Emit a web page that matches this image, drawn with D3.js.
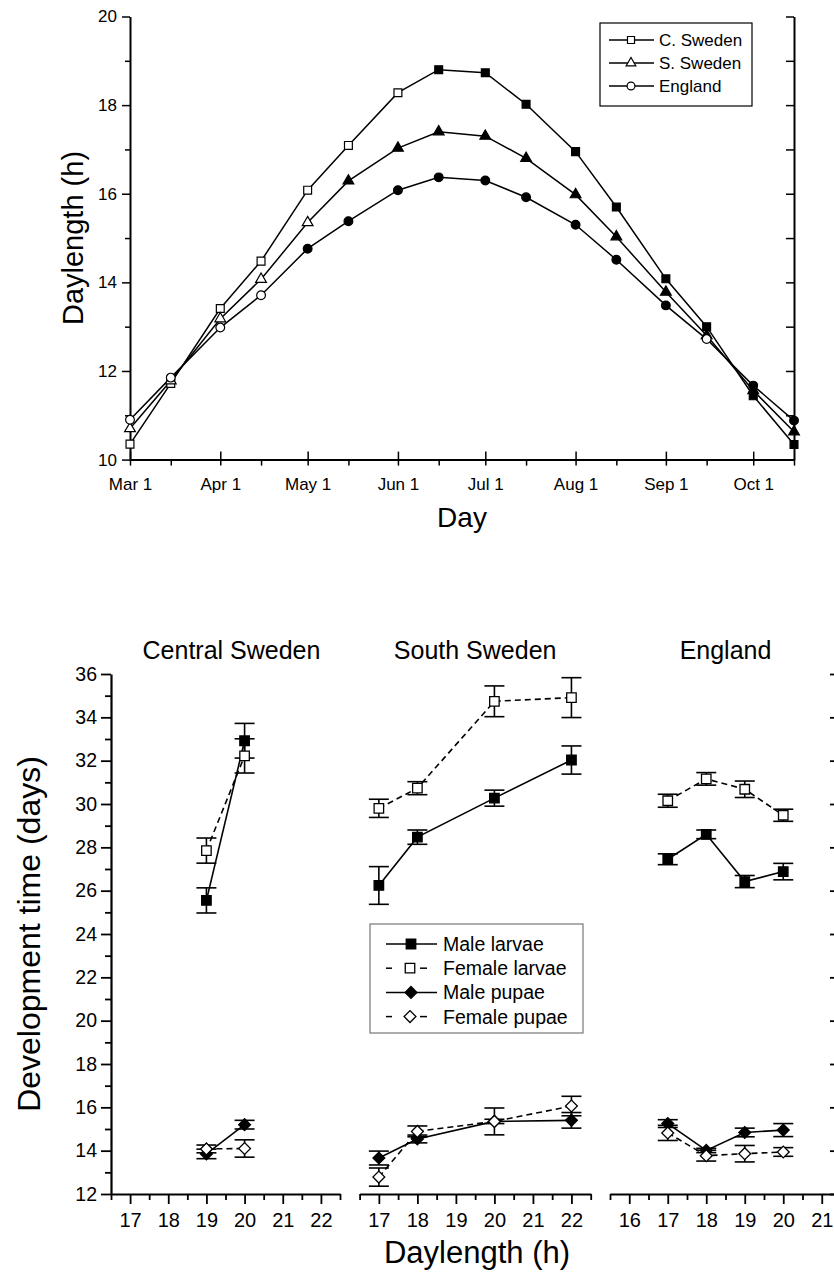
<!DOCTYPE html>
<html lang="en">
  <head>
    <meta charset="utf-8">
    <title>Daylength and development time</title>
    <script src="https://d3js.org/d3.v7.min.js"></script>
    <style>
      body { margin: 0; background: white; }
      svg { display: block; font-family: "Liberation Sans", Arial, sans-serif; }
      .axis path, .axis line { stroke: black; }
      .axis text { fill: black; font-family: "Liberation Sans", Arial, sans-serif; }
    </style>
  </head>
  <body>
    <svg width="834" height="1275"></svg>
    <script>
      // ---- top chart data: daylength through the season ----
      var seasonDates = ["2001-03-01", "2001-03-15", "2001-04-01", "2001-04-15",
        "2001-05-01", "2001-05-15", "2001-06-01", "2001-06-15",
        "2001-07-01", "2001-07-15", "2001-08-01", "2001-08-15",
        "2001-09-01", "2001-09-15", "2001-10-01", "2001-10-15"];
      var cSweden = [10.35, 11.72, 13.41, 14.48, 16.08, 17.09, 18.28, 18.8,
        18.73, 18.02, 16.95, 15.7, 14.08, 13.0, 11.44, 10.34];
      var sSweden = [10.7, 11.78, 13.18, 14.07, 15.35, 16.29, 17.03, 17.4,
        17.3, 16.8, 15.98, 15.03, 13.78, 12.8, 11.56, 10.63];
      var england = [10.9, 11.85, 12.98, 13.71, 14.76, 15.38, 16.08, 16.37,
        16.3, 15.92, 15.3, 14.51, 13.48, 12.72, 11.67, 10.88];
      // 1 = filled marker, 0 = open marker
      var cSwedenFilled = [0, 0, 0, 0, 0, 0, 0, 1, 1, 1, 1, 1, 1, 1, 1, 1];
      var sSwedenFilled = [0, 0, 0, 0, 0, 1, 1, 1, 1, 1, 1, 1, 1, 1, 1, 1];
      var englandFilled = [0, 0, 0, 0, 1, 1, 1, 1, 1, 1, 1, 1, 1, 0, 1, 1];
      var topSeriesNames = ["C. Sweden", "S. Sweden", "England"];

      // ---- bottom chart data: development time (mean, error) ----
      var regionNames = ["Central Sweden", "South Sweden", "England"];
      var centralDaylength = [19, 20];
      var southDaylength = [17, 18, 20, 22];
      var englandDaylength = [17, 18, 19, 20];

      var centralMaleLarvae = [25.55, 32.92], centralMaleLarvaeErr = [0.58, 0.8];
      var centralFemaleLarvae = [27.85, 32.22], centralFemaleLarvaeErr = [0.58, 0.79];
      var centralMalePupae = [13.85, 15.2], centralMalePupaeErr = [0.22, 0.2];
      var centralFemalePupae = [14.08, 14.1], centralFemalePupaeErr = [0.18, 0.4];

      var southMaleLarvae = [26.24, 28.47, 30.27, 32.03], southMaleLarvaeErr = [0.87, 0.33, 0.37, 0.65];
      var southFemaleLarvae = [29.8, 30.73, 34.74, 34.91], southFemaleLarvaeErr = [0.42, 0.3, 0.71, 0.92];
      var southMalePupae = [13.66, 14.54, 15.35, 15.4], southMalePupaeErr = [0.32, 0.18, 0.1, 0.36];
      var southFemalePupae = [12.78, 14.89, 15.35, 16.06], southFemalePupaeErr = [0.42, 0.25, 0.62, 0.45];

      var englandMaleLarvae = [27.45, 28.6, 26.42, 26.88], englandMaleLarvaeErr = [0.25, 0.2, 0.28, 0.38];
      var englandFemaleLarvae = [30.15, 31.16, 30.68, 29.48], englandFemaleLarvaeErr = [0.3, 0.29, 0.38, 0.28];
      var englandMalePupae = [15.25, 14.01, 14.84, 14.95], englandMalePupaeErr = [0.18, 0.1, 0.2, 0.3];
      var englandFemalePupae = [14.82, 13.77, 13.86, 13.94], englandFemalePupaeErr = [0.35, 0.25, 0.38, 0.2];

      var stageNames = ["Male larvae", "Female larvae", "Male pupae", "Female pupae"];

      var svg = d3.select("svg");
      svg.append("rect").attr("width", 834).attr("height", 1275).attr("fill", "white");

      var font = "'Liberation Sans', Arial, sans-serif";

      // ================= top chart =================
      var parseDate = d3.utcParse("%Y-%m-%d");
      var xTop = d3.scaleUtc()
        .domain([parseDate("2001-03-01"), parseDate("2001-10-15")])
        .range([130, 794]);
      var yTop = d3.scaleLinear().domain([10, 20]).range([459.6, 16.5]);

      // bottom axis, month ticks crossing the line
      var months = d3.utcMonth.range(parseDate("2001-03-01"), parseDate("2001-10-02"));
      svg.append("g").attr("class", "axis")
        .attr("transform", "translate(0,459.6)")
        .call(d3.axisBottom(xTop).tickValues(months).tickSize(6).tickSizeOuter(0)
          .tickFormat(d3.utcFormat("%b %-d")))
        .call(function(g) {
          g.select(".domain").attr("stroke-width", 2);
          g.selectAll(".tick line").attr("y1", -8).attr("stroke-width", 1.5);
          g.selectAll(".tick text").attr("y", 18).attr("dy", "0.71em")
            .attr("font-size", 17);
        });
      var mids = months.map(function(d) { return d3.utcDay.offset(d, 14); });
      svg.append("g").attr("class", "axis")
        .attr("transform", "translate(0,459.6)")
        .call(d3.axisBottom(xTop).tickValues(mids).tickSize(6).tickFormat(""))
        .call(function(g) {
          g.select(".domain").remove();
          g.selectAll(".tick line").attr("stroke-width", 1.5);
        });

      // left axis
      svg.append("g").attr("class", "axis")
        .attr("transform", "translate(130,0)")
        .call(d3.axisLeft(yTop).tickValues([10, 12, 14, 16, 18, 20]).tickSize(8)
          .tickSizeOuter(0).tickFormat(d3.format("d")))
        .call(function(g) {
          g.select(".domain").attr("stroke-width", 2);
          g.selectAll(".tick line").attr("stroke-width", 1.5);
          g.selectAll(".tick text").attr("x", -13).attr("font-size", 17);
        });
      svg.append("g").attr("class", "axis")
        .attr("transform", "translate(130,0)")
        .call(d3.axisLeft(yTop).tickValues([11, 13, 15, 17, 19]).tickSize(5).tickFormat(""))
        .call(function(g) {
          g.select(".domain").remove();
          g.selectAll(".tick line").attr("stroke-width", 1.5);
        });

      // right axis, ticks pointing in
      svg.append("g").attr("class", "axis")
        .attr("transform", "translate(794,0)")
        .call(d3.axisRight(yTop).tickValues(d3.range(10, 21)).tickSize(-8)
          .tickSizeOuter(0).tickFormat(""))
        .call(function(g) {
          g.select(".domain").attr("stroke-width", 2);
          g.selectAll(".tick line").attr("stroke-width", 1.5);
        });

      // axis titles
      svg.append("text").attr("x", 462).attr("y", 527)
        .attr("text-anchor", "middle").attr("font-size", 28).attr("font-family", font)
        .text("Day");
      svg.append("text").attr("transform", "translate(83,238) rotate(-90)")
        .attr("text-anchor", "middle").attr("font-size", 29).attr("font-family", font)
        .text("Daylength (h)");

      var topSeries = [
        { values: cSweden, filled: cSwedenFilled, symbol: d3.symbolSquare, size: 62 },
        { values: sSweden, filled: sSwedenFilled, symbol: d3.symbolTriangle, size: 50 },
        { values: england, filled: englandFilled, symbol: d3.symbolCircle, size: 60 }
      ];
      var topLine = d3.line()
        .x(function(d, i) { return xTop(parseDate(seasonDates[i])); })
        .y(function(d) { return yTop(d); });

      topSeries.forEach(function(s) {
        svg.append("path").attr("d", topLine(s.values))
          .attr("fill", "none").attr("stroke", "black").attr("stroke-width", 1.5);
      });
      topSeries.forEach(function(s) {
        svg.append("g").selectAll("path").data(s.values).join("path")
          .attr("transform", function(d, i) {
            return "translate(" + xTop(parseDate(seasonDates[i])) + "," + yTop(d) + ")";
          })
          .attr("d", d3.symbol().type(s.symbol).size(s.size))
          .attr("fill", function(d, i) { return s.filled[i] ? "black" : "white"; })
          .attr("stroke", "black").attr("stroke-width", 1.2);
      });

      // top legend
      var topLegend = svg.append("g");
      topLegend.append("rect").attr("x", 600).attr("y", 23).attr("width", 152).attr("height", 83)
        .attr("fill", "white").attr("stroke", "black").attr("stroke-width", 1.2);
      topSeries.forEach(function(s, i) {
        var cy = 40 + i * 23;
        topLegend.append("line").attr("x1", 609).attr("x2", 654).attr("y1", cy).attr("y2", cy)
          .attr("stroke", "black").attr("stroke-width", 1.3);
        topLegend.append("path").attr("transform", "translate(631," + cy + ")")
          .attr("d", d3.symbol().type(s.symbol).size(s.size * 0.8))
          .attr("fill", "white").attr("stroke", "black").attr("stroke-width", 1.2);
        topLegend.append("text").attr("x", 659).attr("y", cy + 6)
          .attr("font-size", 17).attr("font-family", font).text(topSeriesNames[i]);
      });

      // ================= bottom chart =================
      var yBot = d3.scaleLinear().domain([12, 36]).range([1194, 674]);
      var panels = [
        { name: regionNames[0], domain: [16.5, 22.5], range: [111, 340],
          ticks: [17, 18, 19, 20, 21, 22], x: centralDaylength,
          series: [[centralMaleLarvae, centralMaleLarvaeErr], [centralFemaleLarvae, centralFemaleLarvaeErr],
            [centralMalePupae, centralMalePupaeErr], [centralFemalePupae, centralFemalePupaeErr]] },
        { name: regionNames[1], domain: [16.5, 22.5], range: [359.6, 590.7],
          ticks: [17, 18, 19, 20, 21, 22], x: southDaylength,
          series: [[southMaleLarvae, southMaleLarvaeErr], [southFemaleLarvae, southFemaleLarvaeErr],
            [southMalePupae, southMalePupaeErr], [southFemalePupae, southFemalePupaeErr]] },
        { name: regionNames[2], domain: [15.5, 21.5], range: [610, 841],
          ticks: [16, 17, 18, 19, 20, 21], x: englandDaylength,
          series: [[englandMaleLarvae, englandMaleLarvaeErr], [englandFemaleLarvae, englandFemaleLarvaeErr],
            [englandMalePupae, englandMalePupaeErr], [englandFemalePupae, englandFemalePupaeErr]] }
      ];
      // style per stage: filled?, symbol, dashed?
      var stageStyle = [
        { filled: true, diamond: false, dashed: false },
        { filled: false, diamond: false, dashed: true },
        { filled: true, diamond: true, dashed: false },
        { filled: false, diamond: true, dashed: true }
      ];
      function marker(sel, st) {
        sel.attr("d", d3.symbol().type(d3.symbolSquare).size(st.diamond ? 70 : 90))
          .attr("fill", st.filled ? "black" : "white")
          .attr("stroke", "black").attr("stroke-width", 1.3);
      }

      panels.forEach(function(p) {
        var x = d3.scaleLinear().domain(p.domain).range(p.range);
        var halfTicks = d3.range(p.domain[0], p.domain[1] + 0.01, 1);
        svg.append("g").attr("class", "axis")
          .attr("transform", "translate(0,1194)")
          .call(d3.axisBottom(x).tickValues(p.ticks).tickSize(10).tickSizeOuter(0)
            .tickFormat(d3.format("d")))
          .call(function(g) {
            g.select(".domain").attr("stroke-width", 2.2);
            g.selectAll(".tick line").attr("stroke-width", 1.8);
            g.selectAll(".tick text").attr("y", 19).attr("font-size", 20);
          });
        svg.append("g").attr("class", "axis")
          .attr("transform", "translate(0,1194)")
          .call(d3.axisBottom(x).tickValues(halfTicks).tickSize(6).tickFormat(""))
          .call(function(g) {
            g.select(".domain").remove();
            g.selectAll(".tick line").attr("stroke-width", 1.8);
          });

        svg.append("text").attr("x", (p.range[0] + p.range[1]) / 2 + (p.name == "Central Sweden" ? 6 : 0))
          .attr("y", 659).attr("text-anchor", "middle")
          .attr("font-size", 25).attr("font-family", font).text(p.name);

        var line = d3.line()
          .x(function(d, i) { return x(p.x[i]); })
          .y(function(d) { return yBot(d); });

        p.series.forEach(function(s, k) {
          svg.append("path").attr("d", line(s[0]))
            .attr("fill", "none").attr("stroke", "black").attr("stroke-width", 1.6)
            .attr("stroke-dasharray", stageStyle[k].dashed ? "6,4" : null);
        });
        p.series.forEach(function(s) {
          var g = svg.append("g").attr("stroke", "black").attr("stroke-width", 1.6);
          s[0].forEach(function(v, i) {
            var cx = x(p.x[i]), hi = yBot(v + s[1][i]), lo = yBot(v - s[1][i]);
            g.append("line").attr("x1", cx).attr("x2", cx).attr("y1", hi).attr("y2", lo);
            g.append("line").attr("x1", cx - 10).attr("x2", cx + 10).attr("y1", hi).attr("y2", hi);
            g.append("line").attr("x1", cx - 10).attr("x2", cx + 10).attr("y1", lo).attr("y2", lo);
          });
        });
        p.series.forEach(function(s, k) {
          svg.append("g").selectAll("path").data(s[0]).join("path")
            .attr("transform", function(d, i) {
              return "translate(" + x(p.x[i]) + "," + yBot(d) + ")" +
                (stageStyle[k].diamond ? " rotate(45)" : "");
            })
            .call(marker, stageStyle[k]);
        });
      });

      // left axis
      svg.append("g").attr("class", "axis")
        .attr("transform", "translate(111,0)")
        .call(d3.axisLeft(yBot).tickValues(d3.range(12, 37, 2)).tickSize(10)
          .tickSizeOuter(0).tickFormat(d3.format("d")))
        .call(function(g) {
          g.select(".domain").attr("stroke-width", 2.2);
          g.selectAll(".tick line").attr("stroke-width", 1.8);
          g.selectAll(".tick text").attr("x", -14).attr("font-size", 19.5);
        });
      svg.append("g").attr("class", "axis")
        .attr("transform", "translate(111,0)")
        .call(d3.axisLeft(yBot).tickValues(d3.range(13, 36, 2)).tickSize(6).tickFormat(""))
        .call(function(g) {
          g.select(".domain").remove();
          g.selectAll(".tick line").attr("stroke-width", 1.8);
        });
      // right axis (just off the edge)
      svg.append("g").attr("class", "axis")
        .attr("transform", "translate(841,0)")
        .call(d3.axisRight(yBot).tickValues(d3.range(12, 37, 2)).tickSize(-11)
          .tickSizeOuter(0).tickFormat(""))
        .call(function(g) {
          g.selectAll(".tick line").attr("stroke-width", 1.8);
        });

      // axis titles
      svg.append("text").attr("transform", "translate(40,934) rotate(-90)")
        .attr("text-anchor", "middle").attr("font-size", 32).attr("font-family", font)
        .text("Development time (days)");
      svg.append("text").attr("x", 477).attr("y", 1263)
        .attr("text-anchor", "middle").attr("font-size", 31).attr("font-family", font)
        .text("Daylength (h)");

      // bottom legend
      var legend = svg.append("g");
      legend.append("rect").attr("x", 370).attr("y", 924).attr("width", 213).attr("height", 109)
        .attr("fill", "white").attr("stroke", "#777").attr("stroke-width", 1.2);
      stageNames.forEach(function(name, k) {
        var cy = 944 + k * 24.2, st = stageStyle[k];
        if (st.dashed) {
          legend.append("line").attr("x1", 386).attr("x2", 392).attr("y1", cy).attr("y2", cy)
            .attr("stroke", "black").attr("stroke-width", 1.5);
          legend.append("line").attr("x1", 420).attr("x2", 427).attr("y1", cy).attr("y2", cy)
            .attr("stroke", "black").attr("stroke-width", 1.5);
        } else {
          legend.append("line").attr("x1", 386).attr("x2", 437).attr("y1", cy).attr("y2", cy)
            .attr("stroke", "black").attr("stroke-width", 1.5);
        }
        legend.append("path")
          .attr("transform", "translate(" + (st.dashed ? 410 : 411) + "," + cy + ")" + (st.diamond ? " rotate(45)" : ""))
          .call(marker, st);
        legend.append("text").attr("x", 443).attr("y", cy + 7)
          .attr("font-size", 19.5).attr("font-family", font).text(name);
      });
    </script>
  </body>
</html>
